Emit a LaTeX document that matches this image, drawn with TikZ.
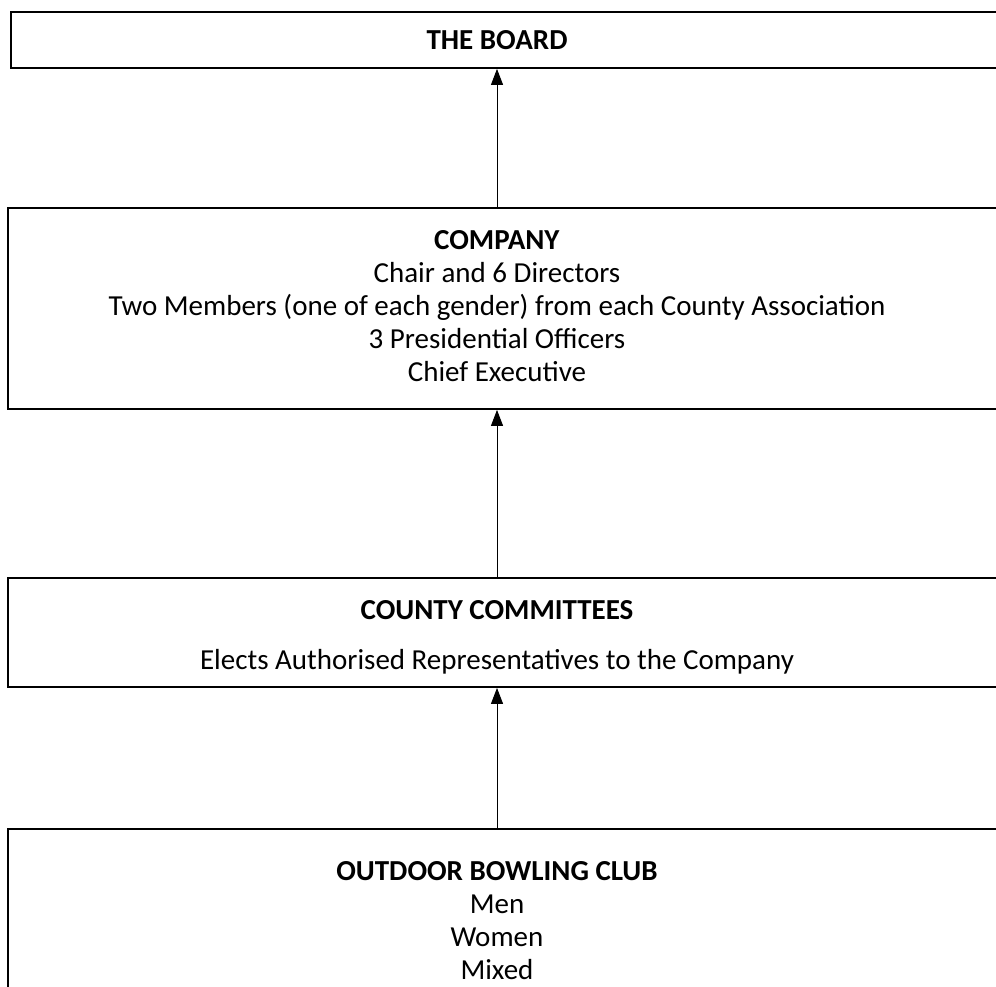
\documentclass[tikz,border=0pt]{standalone}
\usepackage{fontspec}
\setmainfont{Carlito}
\usetikzlibrary{positioning,arrows.meta}

\begin{document}
\begin{tikzpicture}[x=1pt,y=1pt,on grid,
    box/.style={draw,line width=1.8pt,minimum width=1002pt,inner sep=0pt},
    txt/.style={align=center,inner sep=0pt,font=\fontsize{29}{33}\selectfont},
    link/.style={-{Triangle[length=16pt,width=12pt]},line width=1pt}]
    \useasboundingbox (0,0) rectangle (996,-987);
    \clip (0,0) rectangle (996,-987);
    % boxes
    \node[box,minimum height=56pt,minimum width=999pt] (board) at (510.5,-40) {};
    \node[box,minimum height=201pt] (company) at (509,-308.5)            {};
    \node[box,minimum height=109pt] (county)  [below=324pt of company]   {};
    \node[box,minimum height=181pt] (club)    [below=287pt of county]    {};
    % texts
    \node[txt] (board_t)   at (497,-40) {\textbf{THE BOARD}};
    \node[txt] (company_t) [xshift=-12pt,yshift=2.5pt] at (company)
        {\textbf{COMPANY}\\Chair and 6 Directors\\
         Two Members (one of each gender) from each County Association\\
         3 Presidential Officers\\Chief Executive};
    \node[txt] (county_t)  [xshift=-12pt,yshift=-5pt] at (county)
        {\textbf{COUNTY COMMITTEES}\\[17pt]Elects Authorised Representatives to the Company};
    \node[txt] (club_t)    [xshift=-12pt,yshift=-1pt] at (club)
        {\textbf{OUTDOOR BOWLING CLUB}\\Men\\Women\\Mixed};
    % links
    \coordinate (spine) at (board_t.center);
    \path[link]
    (company.north -| spine) edge (board.south -| spine)
    (county.north -| spine)  edge (company.south -| spine)
    (club.north -| spine)    edge (county.south -| spine);
\end{tikzpicture}
\end{document}
